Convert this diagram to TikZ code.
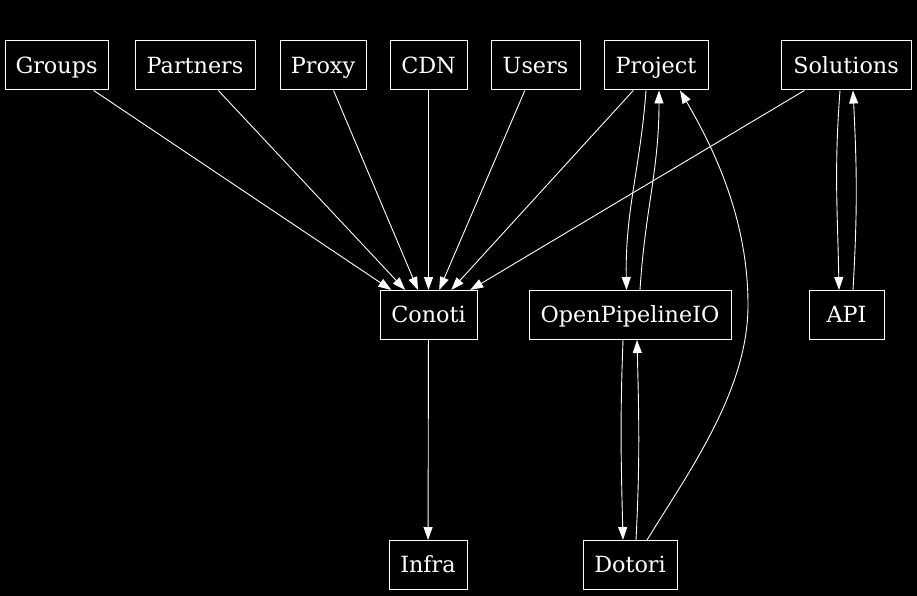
\documentclass[tikz,border=0pt]{standalone}
\usepackage{fontspec}
\setmainfont{DejaVu Serif}
\usetikzlibrary{arrows.meta}
\begin{document}
\begin{tikzpicture}[x=1pt,y=-1pt,
  box/.style={draw=white,line width=1pt,text=white,inner sep=0pt,minimum height=49pt,text height=15.5pt,text depth=0pt,font=\fontsize{22.3}{25}\selectfont},
  edge/.style={draw=white,line width=0.9pt,-{Triangle[length=13pt,width=9pt]}}]
\fill[black] (0,0) rectangle (917,596);
\useasboundingbox (0,0) rectangle (917,596);
% top row
\node[box,minimum width=103pt] (groups) at (56.5,65.5) {Groups};
\node[box,minimum width=120pt] (partners) at (195,65.5) {Partners};
\node[box,minimum width=86pt] (proxy) at (323,65.5) {Proxy};
\node[box,minimum width=77pt] (cdn) at (428.5,65.5) {CDN};
\node[box,minimum width=89pt] (users) at (535.5,65.5) {Users};
\node[box,minimum width=104pt] (project) at (656,65.5) {Project};
\node[box,minimum width=130pt] (solutions) at (846,65.5) {Solutions};
% middle row
\node[box,minimum width=97pt] (conoti) at (428.5,315) {Conoti};
\node[box,minimum width=202pt] (opio) at (630,315) {OpenPipelineIO};
\node[box,minimum width=75pt] (api) at (846.5,315) {API};
% bottom row
\node[box,minimum width=78pt] (infra) at (428,565) {Infra};
\node[box,minimum width=94pt] (dotori) at (630,565) {Dotori};
% edges into Conoti
\draw[edge] (groups) -- (conoti);
\draw[edge] (partners) -- (conoti);
\draw[edge] (proxy) -- (conoti);
\draw[edge] (cdn) -- (conoti);
\draw[edge] (users) -- (conoti);
\draw[edge] (project) -- (conoti);
\draw[edge] (solutions) -- (conoti);
\draw[edge] (conoti) -- (infra);
% Project <-> OpenPipelineIO
\draw[edge] ([xshift=-10pt]project.south) .. controls ([xshift=-16pt,yshift=-80pt]project.south) and ([xshift=-5pt,yshift=80pt]opio.north) .. ([xshift=-3.5pt]opio.north);
\draw[edge] ([xshift=10pt]opio.north) .. controls ([xshift=15pt,yshift=80pt]opio.north) and ([xshift=3pt,yshift=-80pt]project.south) .. ([xshift=3pt]project.south);
% OpenPipelineIO <-> Dotori
\draw[edge] ([xshift=-7pt]opio.south) .. controls ([xshift=-10pt,yshift=-80pt]opio.south) and ([xshift=-9pt,yshift=80pt]dotori.north) .. ([xshift=-7pt]dotori.north);
\draw[edge] ([xshift=6pt]dotori.north) .. controls ([xshift=10pt,yshift=80pt]dotori.north) and ([xshift=9pt,yshift=-80pt]opio.south) .. ([xshift=7pt]opio.south);
% Solutions <-> API
\draw[edge] ([xshift=-6pt]solutions.south) .. controls ([xshift=-12pt,yshift=-80pt]solutions.south) and ([xshift=-9pt,yshift=80pt]api.north) .. ([xshift=-7.5pt]api.north);
\draw[edge] ([xshift=6.5pt]api.north) .. controls ([xshift=11pt,yshift=80pt]api.north) and ([xshift=11pt,yshift=-80pt]solutions.south) .. ([xshift=7pt]solutions.south);
% Dotori -> Project
\coordinate (bend) at (748,305);
\draw[edge] ([xshift=17pt]dotori.north) .. controls ([xshift=60pt,yshift=70pt]dotori.north) and ([yshift=-85pt]bend) .. (bend)
  .. controls ([yshift=85pt]bend) and ([xshift=59pt,yshift=-60pt]project.south) .. ([xshift=24pt]project.south);
\end{tikzpicture}
\end{document}
